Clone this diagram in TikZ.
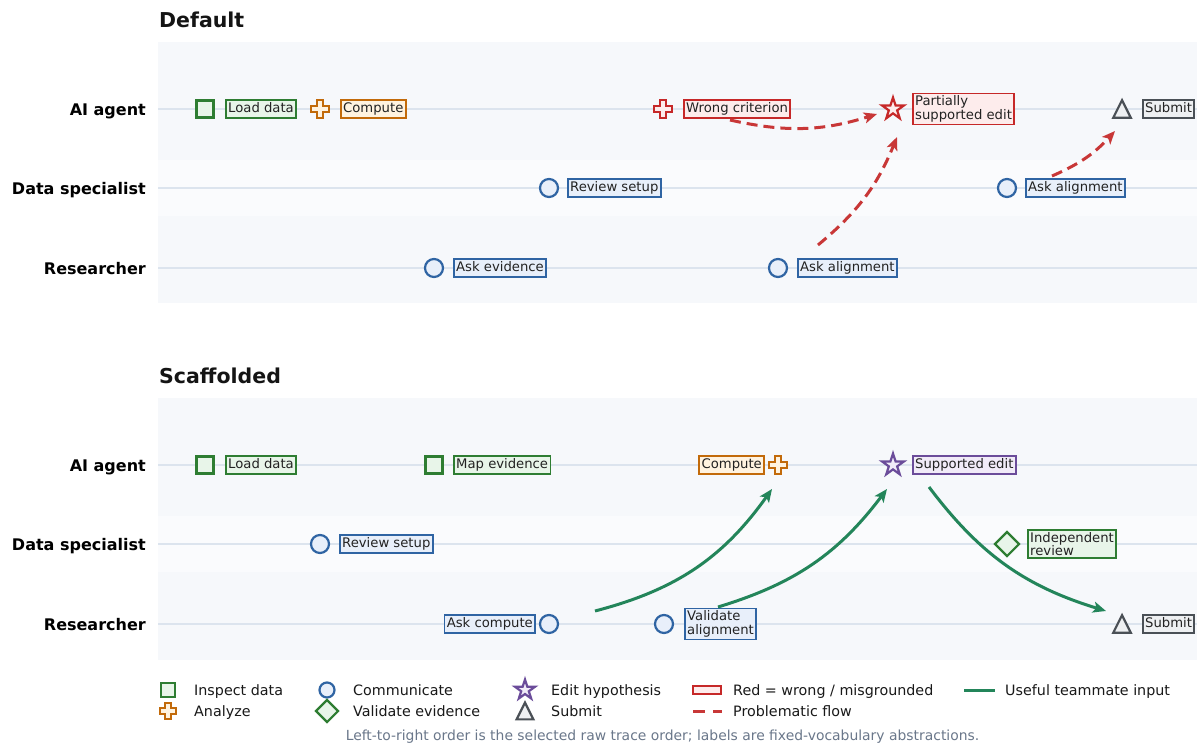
\documentclass[tikz,border=0pt]{standalone}
\usepackage{fontspec}
\setmainfont{DejaVu Sans}
\usetikzlibrary{shapes.geometric,arrows.meta,calc}
\definecolor{gE}{HTML}{2E7D32}\definecolor{gF}{HTML}{E8F5E9}
\definecolor{oE}{HTML}{C26A0A}\definecolor{oF}{HTML}{FFF3E0}
\definecolor{bE}{HTML}{2F64A3}\definecolor{bF}{HTML}{E8EFFA}
\definecolor{rE}{HTML}{C62828}\definecolor{rF}{HTML}{FDECEC}
\definecolor{pE}{HTML}{6B4C9A}\definecolor{pF}{HTML}{F1EBF8}
\definecolor{kE}{HTML}{4A5056}\definecolor{kF}{HTML}{EEF0F2}
\definecolor{flowG}{HTML}{23855A}\definecolor{flowR}{HTML}{C83737}
\definecolor{bandA}{HTML}{F6F8FB}\definecolor{bandB}{HTML}{FAFBFD}
\definecolor{laneL}{HTML}{DCE4EE}\definecolor{txt}{HTML}{222222}
\definecolor{foot}{HTML}{6A778A}
\tikzset{
  lbl/.style={draw, line width=1.8, inner xsep=2.3, inner ysep=2.6, text height=10.4, text depth=3, anchor=west, text=txt, font=\fontsize{13.2}{14}\selectfont},
  lblL/.style={lbl, anchor=east},
  lbltwo/.style={draw, line width=1.8, inner xsep=2.3, inner ysep=2.4, align=left, anchor=west, text=txt, font=\fontsize{13.2}{13.6}\selectfont},
  gbox/.style={draw=gE, fill=gF}, obox/.style={draw=oE, fill=oF},
  bbox/.style={draw=bE, fill=bF}, rbox/.style={draw=rE, fill=rF},
  pbox/.style={draw=pE, fill=pF}, kbox/.style={draw=kE, fill=kF},
  mk/.style={line width=2.2, inner sep=0, draw},
  sqm/.style={mk, rectangle, minimum size=17, draw=gE, fill=gF},
  circm/.style={mk, circle, minimum size=18, draw=bE, fill=bF},
  starm/.style={mk, star, star points=5, star point ratio=2.618, minimum size=23},
  diam/.style={mk, diamond, minimum size=25, draw=gE, fill=gF},
  pics/plusm/.style={code={\path[pic actions] (-3.3,-9.3) -- (3.3,-9.3) -- (3.3,-3.3) -- (9.3,-3.3) -- (9.3,3.3) -- (3.3,3.3) -- (3.3,9.3) -- (-3.3,9.3) -- (-3.3,3.3) -- (-9.3,3.3) -- (-9.3,-3.3) -- (-3.3,-3.3) -- cycle;}},
  pics/trim/.style={code={\path[pic actions] (0,-8.8) -- (8.8,8.8) -- (-8.8,8.8) -- cycle;}},
  lane/.style={font=\fontsize{16}{18}\selectfont\bfseries, anchor=base east, inner sep=0},
  ttl/.style={font=\fontsize{20.5}{24}\selectfont\bfseries, anchor=base west, text=black!92, inner sep=0},
  leg/.style={font=\fontsize{14.3}{16}\selectfont, anchor=base west, text=black!90, inner sep=0},
  redflow/.style={draw=flowR, line width=3, dash pattern=on 11 off 6, -{Stealth[length=13,width=11,inset=3]}},
  greenflow/.style={draw=flowG, line width=3, -{Stealth[length=13,width=11,inset=3]}},
  laneline/.style={draw=laneL, line width=2}
}
\begin{document}
\begin{tikzpicture}[x=1pt,y=-1pt]
\useasboundingbox[fill=white] (0,0) rectangle (1197,744);
% ---------- panel backgrounds ----------
\fill[bandA] (158,42) rectangle (1197,160);
\fill[bandB] (158,160) rectangle (1197,216);
\fill[bandA] (158,216) rectangle (1197,303);
\fill[bandA] (158,398) rectangle (1197,516);
\fill[bandB] (158,516) rectangle (1197,572);
\fill[bandA] (158,572) rectangle (1197,660);
\foreach \yy in {109,188,268,465,544,624} \draw[laneline] (158,\yy) -- (1197,\yy);
% ---------- titles and lane labels ----------
\node[ttl] (t1) at (159,27.5) {Default};
\node[ttl] (t2) at (159,383.5) {Scaffolded};
\node[lane] (la1) at (146,115) {AI agent};
\node[lane] (la2) at (146,194) {Data specialist};
\node[lane] (la3) at (146,274) {Researcher};
\node[lane] (lb1) at (146,471) {AI agent};
\node[lane] (lb2) at (146,550) {Data specialist};
\node[lane] (lb3) at (146,630) {Researcher};
% ---------- Default panel ----------
\node[sqm] (d1) at (205,109) {};
\node[lbl,gbox] (d1l) at (225,109) {Load data};
\pic[draw=oE, fill=oF, line width=2.2] at (320,109) {plusm};
\coordinate (d2) at (320,109);
\node[lbl,obox] (d2l) at (340,109) {Compute};
\pic[draw=rE, fill=rF, line width=2.2] at (663,109) {plusm};
\coordinate (d3) at (663,109);
\node[lbl,rbox] (d3l) at (683,109) {Wrong criterion};
\node[starm, draw=rE, fill=rF] (d4) at (893,109) {};
\node[lbltwo,rbox] (d4l) at (912,109) {Partially\\supported edit};
\pic[draw=kE, fill=kF, line width=2.2] at (1122,109) {trim};
\coordinate (d5) at (1122,109);
\node[lbl,kbox] (d5l) at (1142,109) {Submit};
\node[circm] (d6) at (549,188) {};
\node[lbl,bbox] (d6l) at (567,188) {Review setup};
\node[circm] (d7) at (1007,188) {};
\node[lbl,bbox] (d7l) at (1025,188) {Ask alignment};
\node[circm] (d8) at (434,268) {};
\node[lbl,bbox] (d8l) at (453,268) {Ask evidence};
\node[circm] (d9) at (778,268) {};
\node[lbl,bbox] (d9l) at (797,268) {Ask alignment};
% red flows
\coordinate (r1a) at (730,120); \coordinate (r1b) at (877,114);
\coordinate (r2a) at (818,245); \coordinate (r2b) at (897,137);
\coordinate (r3a) at (1052,176); \coordinate (r3b) at (1115,131);
\draw[redflow] (r1a) to[bend right=15] (r1b);
\draw[redflow] (r2a) to[bend right=14] (r2b);
\draw[redflow] (r3a) to[bend right=12] (r3b);
% ---------- Scaffolded panel ----------
\node[sqm] (s1) at (205,465) {};
\node[lbl,gbox] (s1l) at (225,465) {Load data};
\node[sqm] (s2) at (434,465) {};
\node[lbl,gbox] (s2l) at (453,465) {Map evidence};
\pic[draw=oE, fill=oF, line width=2.2] at (778,465) {plusm};
\coordinate (s3) at (778,465);
\node[lblL,obox] (s3l) at (765,465) {Compute};
\node[starm, draw=pE, fill=pF] (s4) at (893,465) {};
\node[lbl,pbox] (s4l) at (912,465) {Supported edit};
\node[circm] (s5) at (320,544) {};
\node[lbl,bbox] (s5l) at (339,544) {Review setup};
\node[diam] (s6) at (1007,544) {};
\node[lbltwo,gbox] (s6l) at (1027,544) {Independent\\review};
\node[circm] (s7) at (549,624) {};
\node[lblL,bbox] (s7l) at (536,624) {Ask compute};
\node[circm] (s8) at (664,624) {};
\node[lbltwo,bbox] (s8l) at (684,624) {Validate\\alignment};
\pic[draw=kE, fill=kF, line width=2.2] at (1122,624) {trim};
\coordinate (s9) at (1122,624);
\node[lbl,kbox] (s9l) at (1142,624) {Submit};
% green flows
\coordinate (g1a) at (595,611); \coordinate (g1b) at (772,489);
\coordinate (g2a) at (718,607); \coordinate (g2b) at (887,489);
\coordinate (g3a) at (929,487); \coordinate (g3b) at (1106,611);
\draw[greenflow] (g1a) to[bend right=20] (g1b);
\draw[greenflow] (g2a) to[bend right=18] (g2b);
\draw[greenflow] (g3a) to[bend right=18] (g3b);
% ---------- legend ----------
\node[sqm, minimum size=14.5] (k1) at (168,690) {};
\node[leg] (k1t) at (194,695.2) {Inspect data};
\pic[draw=oE, fill=oF, line width=2, scale=0.85] at (168,711) {plusm};
\coordinate (k2) at (168,711);
\node[leg] (k2t) at (194,716.2) {Analyze};
\node[circm, minimum size=15] (k3) at (327,690) {};
\node[leg] (k3t) at (353,695.2) {Communicate};
\node[diam, minimum size=23] (k4) at (327,711) {};
\node[leg] (k4t) at (353,716.2) {Validate evidence};
\node[starm, draw=pE, fill=pF, minimum size=21] (k5) at (525,690) {};
\node[leg] (k5t) at (551,695.2) {Edit hypothesis};
\pic[draw=kE, fill=kF, line width=2.2, scale=0.95] at (525,711) {trim};
\coordinate (k6) at (525,711);
\node[leg] (k6t) at (551,716.2) {Submit};
\node[draw=rE, fill=rF, line width=2.4, minimum width=28, minimum height=8.5, inner sep=0] (k7) at (707,690) {};
\node[leg] (k7t) at (733,695.2) {Red = wrong / misgrounded};
\coordinate (k8a) at (693,711); \coordinate (k8b) at (722,711);
\draw[draw=flowR, line width=3, dash pattern=on 12 off 8] (k8a) -- (k8b);
\node[leg] (k8t) at (733,716.2) {Problematic flow};
\coordinate (k9a) at (964,690); \coordinate (k9b) at (995,690);
\draw[draw=flowG, line width=3] (k9a) -- (k9b);
\node[leg] (k9t) at (1005,695.2) {Useful teammate input};
\node[font=\fontsize{13.9}{15}\selectfont, text=foot, anchor=base, inner sep=0] (ft) at (662.5,740.5) {Left-to-right order is the selected raw trace order; labels are fixed-vocabulary abstractions.};
\end{tikzpicture}
\end{document}
